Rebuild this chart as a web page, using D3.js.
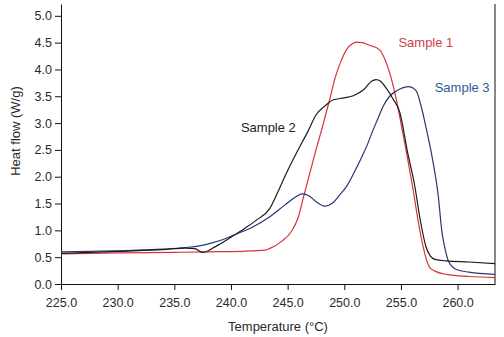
<!DOCTYPE html>
<html><head><meta charset="utf-8">
<script src="https://cdn.jsdelivr.net/npm/d3@7"></script>
<style>
body{margin:0;background:#fff;}
svg{display:block;font-family:"Liberation Sans",Arial,sans-serif;}
</style></head>
<body><svg id="c" width="504" height="337"></svg>
<script>
const xTicks = [225, 230, 235, 240, 245, 250, 255, 260];
const yTicks = [0, 0.5, 1.0, 1.5, 2.0, 2.5, 3.0, 3.5, 4.0, 4.5, 5.0];

const sample1T = [225,230,235,238,241,243,243.4,244.5,245.3,245.9,246.4,246.8,247.5,248.1,248.7,249.2,249.7,250.2,250.7,251.1,251.6,252.1,253.1,253.6,254.0,254.6,255.0,255.5,256.0,256.5,256.95,257.5,258.0,259.0,261,263.3];
const sample1Q = [0.56,0.58,0.59,0.60,0.61,0.63,0.66,0.80,0.97,1.22,1.62,1.94,2.5,2.95,3.43,3.85,4.15,4.37,4.48,4.51,4.50,4.46,4.37,4.18,3.94,3.43,3.0,2.44,1.85,1.2,0.70,0.32,0.24,0.18,0.14,0.12];

const sample2T = [225,230,234,236,236.8,237.5,238.0,238.4,239.3,240.2,241.3,242.3,243.4,244.1,244.9,245.8,246.8,247.5,248.3,249.0,250.0,250.8,251.7,252.4,252.8,253.2,253.7,254.3,254.9,255.6,256.2,256.7,257.2,257.6,258.0,259.0,261,263.3];
const sample2Q = [0.57,0.61,0.64,0.67,0.66,0.59,0.62,0.67,0.78,0.90,1.05,1.20,1.40,1.70,2.07,2.45,2.85,3.15,3.32,3.43,3.47,3.51,3.62,3.78,3.81,3.78,3.65,3.45,3.2,2.44,1.85,1.2,0.70,0.52,0.46,0.43,0.41,0.38];

const sample3T = [225,230,234,236,237.2,238.4,239.3,240.2,241.8,243.4,244.8,245.7,246.3,246.9,247.6,248.3,248.9,249.6,250.2,250.8,251.5,252.0,252.5,253.0,253.4,254.0,254.6,255.2,255.7,256.1,256.4,256.8,257.2,257.8,258.3,258.6,258.9,259.2,259.9,261,263.3];
const sample3Q = [0.60,0.62,0.65,0.68,0.71,0.77,0.83,0.91,1.05,1.25,1.48,1.62,1.68,1.64,1.52,1.45,1.50,1.66,1.82,2.05,2.35,2.58,2.85,3.10,3.30,3.50,3.60,3.66,3.68,3.65,3.58,3.3,2.93,2.31,1.63,1.0,0.65,0.42,0.27,0.22,0.18];

const seriesNames = ["Sample 1", "Sample 2", "Sample 3"];
const lineColors = ["#d8323c", "#1c1c1c", "#2a3670"];
const labelColors = ["#d2404c", "#1c1c1c", "#2d5c98"];

const svg = d3.select("#c");
const x = d3.scaleLinear().domain([225, 263.3]).range([61, 495]);
const y = d3.scaleLinear().domain([0, 5.22]).range([284, 4]);

const xAxis = svg.append("g").attr("transform", "translate(0,284)")
  .call(d3.axisBottom(x).tickValues(xTicks).tickFormat(d3.format(".1f")).tickSize(6).tickSizeOuter(0).tickPadding(8));
const yAxis = svg.append("g").attr("transform", "translate(61,0)")
  .call(d3.axisLeft(y).tickValues(yTicks).tickFormat(d3.format(".1f")).tickSize(6).tickSizeOuter(0).tickPadding(3));
[xAxis, yAxis].forEach(a => {
  a.selectAll("text").attr("font-size", 12.5).attr("fill", "#2a2a2a").attr("font-family", "Liberation Sans, Arial, sans-serif");
  a.selectAll("line,path").attr("stroke", "#111");
});

// right border
svg.append("line").attr("x1", x(263.3)).attr("x2", x(263.3)).attr("y1", y(5.22)).attr("y2", y(0)).attr("stroke", "#111");

const line = d3.line().x(d => x(d[0])).y(d => y(d[1])).curve(d3.curveMonotoneX);
const data = [
  d3.zip(sample1T, sample1Q),
  d3.zip(sample2T, sample2Q),
  d3.zip(sample3T, sample3Q)
];
[0, 2, 1].forEach(i => {
  svg.append("path").datum(data[i]).attr("d", line)
    .attr("fill", "none").attr("stroke", lineColors[i]).attr("stroke-width", 1.2);
});

const labelX = [257.2, 243.3, 260.4];
const labelY = [4.48, 2.90, 3.65];
seriesNames.forEach((n, i) => {
  svg.append("text").attr("x", x(labelX[i])).attr("y", y(labelY[i]))
    .attr("text-anchor", "middle").attr("dominant-baseline", "middle")
    .attr("font-size", 13).attr("fill", labelColors[i]).text(n);
});

svg.append("text").attr("x", 278).attr("y", 331).attr("text-anchor", "middle")
  .attr("font-size", 13).attr("fill", "#2a2a2a").text("Temperature (°C)");
svg.append("text").attr("transform", "translate(20,131) rotate(-90)").attr("text-anchor", "middle")
  .attr("font-size", 13).attr("fill", "#2a2a2a").text("Heat flow (W/g)");
</script></body></html>
